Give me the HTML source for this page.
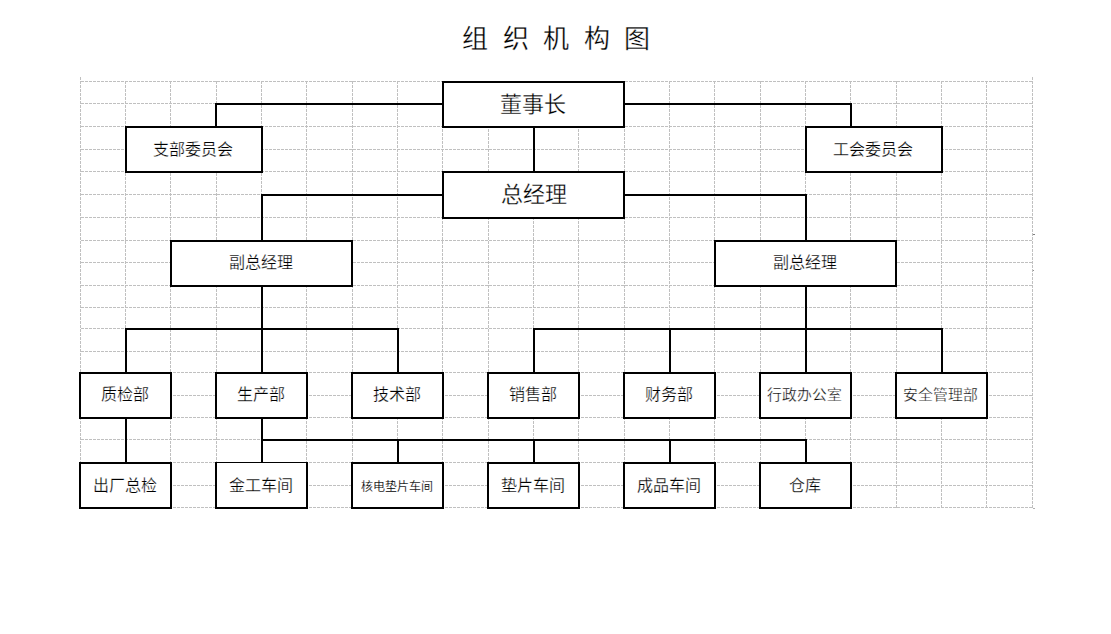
<!DOCTYPE html>
<html lang="zh-CN"><head><meta charset="utf-8">
<style>
html,body{margin:0;padding:0;background:#fff;}
body{width:1111px;height:634px;position:relative;overflow:hidden;font-family:"Liberation Sans",sans-serif;color:#000;}
svg{position:absolute;left:0;top:0;}
.title{position:absolute;left:462px;top:20.8px;font-size:26px;letter-spacing:14.6px;white-space:nowrap;line-height:36px;color:#000;-webkit-text-stroke:0.3px #fff;}
.t{position:absolute;display:flex;align-items:center;justify-content:center;white-space:nowrap;line-height:1;}
.big{font-size:22px;-webkit-text-stroke:0.3px #fff;}
.m{font-size:16px;-webkit-text-stroke:0.25px #fff;}
.s{font-size:14.8px;-webkit-text-stroke:0.3px #fff;}
.xs{font-size:12px;-webkit-text-stroke:0.15px #fff;}
</style></head><body>
<svg width="1111" height="634" viewBox="0 0 1111 634" shape-rendering="crispEdges">
<g stroke="#c0c0c0" stroke-width="1" stroke-dasharray="3 1" fill="none">
<line x1="80" y1="81.5" x2="1033" y2="81.5" stroke-dashoffset="3"/><line x1="80" y1="103.5" x2="1033" y2="103.5" stroke-dashoffset="3"/><line x1="80" y1="126.5" x2="1033" y2="126.5" stroke-dashoffset="3"/><line x1="80" y1="149.5" x2="1033" y2="149.5" stroke-dashoffset="3"/><line x1="80" y1="171.5" x2="1033" y2="171.5" stroke-dashoffset="3"/><line x1="80" y1="194.5" x2="1033" y2="194.5" stroke-dashoffset="3"/><line x1="80" y1="217.5" x2="1033" y2="217.5" stroke-dashoffset="3"/><line x1="80" y1="240.5" x2="1033" y2="240.5" stroke-dashoffset="3"/><line x1="80" y1="262.5" x2="1033" y2="262.5" stroke-dashoffset="3"/><line x1="80" y1="285.5" x2="1033" y2="285.5" stroke-dashoffset="3"/><line x1="80" y1="307.5" x2="1033" y2="307.5" stroke-dashoffset="3"/><line x1="80" y1="328.5" x2="1033" y2="328.5" stroke-dashoffset="3"/><line x1="80" y1="351.5" x2="1033" y2="351.5" stroke-dashoffset="3"/><line x1="80" y1="372.5" x2="1033" y2="372.5" stroke-dashoffset="3"/><line x1="80" y1="395.5" x2="1033" y2="395.5" stroke-dashoffset="3"/><line x1="80" y1="417.5" x2="1033" y2="417.5" stroke-dashoffset="3"/><line x1="80" y1="439.5" x2="1033" y2="439.5" stroke-dashoffset="3"/><line x1="80" y1="462.5" x2="1033" y2="462.5" stroke-dashoffset="3"/><line x1="80" y1="485.5" x2="1033" y2="485.5" stroke-dashoffset="3"/><line x1="80" y1="507.5" x2="1033" y2="507.5" stroke-dashoffset="3"/><line x1="80.5" y1="77" x2="80.5" y2="508"/><line x1="125.5" y1="81" x2="125.5" y2="508"/><line x1="170.5" y1="81" x2="170.5" y2="508"/><line x1="216.5" y1="81" x2="216.5" y2="508"/><line x1="261.5" y1="81" x2="261.5" y2="508"/><line x1="306.5" y1="81" x2="306.5" y2="508"/><line x1="352.5" y1="81" x2="352.5" y2="508"/><line x1="397.5" y1="81" x2="397.5" y2="508"/><line x1="442.5" y1="81" x2="442.5" y2="508"/><line x1="488.5" y1="81" x2="488.5" y2="508"/><line x1="533.5" y1="81" x2="533.5" y2="508"/><line x1="578.5" y1="81" x2="578.5" y2="508"/><line x1="624.5" y1="81" x2="624.5" y2="508"/><line x1="669.5" y1="81" x2="669.5" y2="508"/><line x1="714.5" y1="81" x2="714.5" y2="508"/><line x1="760.5" y1="81" x2="760.5" y2="508"/><line x1="805.5" y1="81" x2="805.5" y2="508"/><line x1="850.5" y1="81" x2="850.5" y2="508"/><line x1="896.5" y1="81" x2="896.5" y2="508"/><line x1="941.5" y1="81" x2="941.5" y2="508"/><line x1="986.5" y1="81" x2="986.5" y2="508"/><line x1="1032.5" y1="77" x2="1032.5" y2="508"/>
</g>
<g fill="#000">
<rect x="215" y="103" width="228" height="2"/><rect x="215" y="103" width="2" height="24"/><rect x="624" y="103" width="228" height="2"/><rect x="850" y="103" width="2" height="24"/><rect x="533" y="127" width="2" height="45"/><rect x="261" y="194" width="182" height="2"/><rect x="261" y="194" width="2" height="47"/><rect x="624" y="194" width="183" height="2"/><rect x="805" y="194" width="2" height="47"/><rect x="261" y="286" width="2" height="87"/><rect x="125" y="328" width="274" height="2"/><rect x="125" y="328" width="2" height="45"/><rect x="397" y="328" width="2" height="45"/><rect x="805" y="286" width="2" height="87"/><rect x="533" y="328" width="410" height="2"/><rect x="533" y="328" width="2" height="45"/><rect x="669" y="328" width="2" height="45"/><rect x="941" y="328" width="2" height="45"/><rect x="125" y="418" width="2" height="45"/><rect x="261" y="418" width="2" height="45"/><rect x="261" y="439" width="546" height="2"/><rect x="397" y="439" width="2" height="24"/><rect x="533" y="439" width="2" height="24"/><rect x="669" y="439" width="2" height="24"/><rect x="805" y="439" width="2" height="24"/>
</g>
<g stroke="#000" stroke-width="2" fill="#fff">
<rect x="443" y="82" width="181" height="45"/><rect x="443" y="172" width="181" height="46"/><rect x="126" y="127" width="136" height="45"/><rect x="806" y="127" width="136" height="45"/><rect x="171" y="241" width="181" height="45"/><rect x="715" y="241" width="181" height="45"/><rect x="80" y="373" width="91" height="45"/><rect x="216" y="373" width="91" height="45"/><rect x="352" y="373" width="91" height="45"/><rect x="488" y="373" width="91" height="45"/><rect x="624" y="373" width="91" height="45"/><rect x="760" y="373" width="91" height="45"/><rect x="896" y="373" width="91" height="45"/><rect x="80" y="463" width="91" height="45"/><rect x="216" y="463" width="91" height="45"/><rect x="352" y="463" width="91" height="45"/><rect x="488" y="463" width="91" height="45"/><rect x="624" y="463" width="91" height="45"/><rect x="760" y="463" width="91" height="45"/>
</g>
<rect x="217" y="463" width="89" height="1" fill="#fff"/>
<rect x="1033" y="234" width="2" height="1" fill="#808080"/>
<rect x="1033" y="270" width="1" height="1" fill="#909090"/>
<rect x="1033" y="508" width="2" height="1" fill="#b0b0b0"/>
</svg>
<div class="title">组织机构图</div>
<div class="t big" style="left:441.5px;top:81.5px;width:183px;height:47px">董事长</div><div class="t big" style="left:442px;top:171px;width:183px;height:48px">总经理</div><div class="t m" style="left:124px;top:126px;width:138px;height:47px">支部委员会</div><div class="t m" style="left:804px;top:126px;width:138px;height:47px">工会委员会</div><div class="t m" style="left:169px;top:239.5px;width:183px;height:47px">副总经理</div><div class="t m" style="left:713px;top:239.5px;width:183px;height:47px">副总经理</div><div class="t m" style="left:78px;top:371.5px;width:93px;height:47px">质检部</div><div class="t m" style="left:214px;top:371.5px;width:93px;height:47px">生产部</div><div class="t m" style="left:350px;top:371.5px;width:93px;height:47px">技术部</div><div class="t m" style="left:486px;top:371.5px;width:93px;height:47px">销售部</div><div class="t m" style="left:622px;top:371.5px;width:93px;height:47px">财务部</div><div class="t s" style="left:758px;top:371.5px;width:93px;height:47px">行政办公室</div><div class="t s" style="left:894px;top:371.5px;width:93px;height:47px">安全管理部</div><div class="t m" style="left:78px;top:462.5px;width:93px;height:47px">出厂总检</div><div class="t m" style="left:214px;top:462.5px;width:93px;height:47px">金工车间</div><div class="t xs" style="left:350px;top:463.5px;width:93px;height:47px">核电垫片车间</div><div class="t m" style="left:486px;top:462.5px;width:93px;height:47px">垫片车间</div><div class="t m" style="left:622px;top:462.5px;width:93px;height:47px">成品车间</div><div class="t m" style="left:758px;top:462.5px;width:93px;height:47px">仓库</div>
</body></html>
